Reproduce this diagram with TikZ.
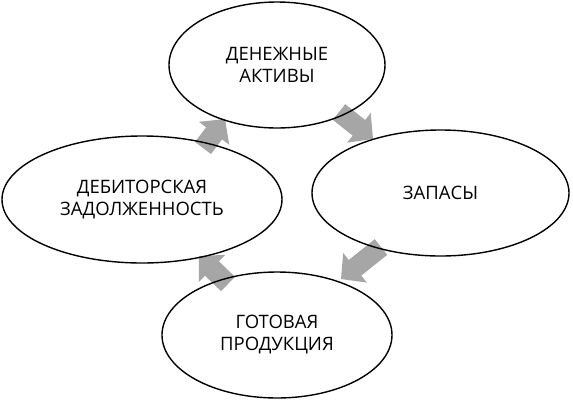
\documentclass[tikz,border=0pt]{standalone}
\usepackage{fontspec}
\setmainfont{Open Sans}
\usetikzlibrary{calc,shapes.geometric}
\definecolor{arrowgray}{RGB}{166,166,166}
\tikzset{
  oval/.style={draw=black, line width=1.4pt, ellipse, inner sep=0pt, align=center,
    font=\fontsize{18.5}{22}\selectfont},
  blockarrow/.style={fill=arrowgray, draw=none}
}
\newcommand\barrow[2]{%
  \coordinate (hb) at ($(#2)!18pt!(#1)$);
  \fill[blockarrow] ($(#1)!10pt!90:(#2)$) -- ($(hb)!10pt!-90:(#1)$) -- ($(hb)!19pt!-90:(#1)$)
    -- (#2) -- ($(hb)!19pt!90:(#1)$) -- ($(hb)!10pt!90:(#1)$) -- ($(#1)!10pt!-90:(#2)$) -- cycle;
}
\begin{document}
\begin{tikzpicture}[x=1pt,y=-1pt]
\useasboundingbox (0,0) rectangle (573,400);
% arrow end points
\coordinate (t1) at (339,112); \coordinate (h1) at (373,139);
\coordinate (t2) at (381,247); \coordinate (h2) at (341,279);
\coordinate (t3) at (228,284); \coordinate (h3) at (199,256);
\coordinate (t4) at (203,148); \coordinate (h4) at (225,119);
\barrow{t1}{h1}
\barrow{t2}{h2}
\barrow{t3}{h3}
\barrow{t4}{h4}
\node[oval, minimum width=216pt, minimum height=126pt] (money) at (277,65) {ДЕНЕЖНЫЕ\\АКТИВЫ};
\node[oval, minimum width=257pt, minimum height=126pt] (stock) at (440.5,193) {ЗАПАСЫ};
\node[oval, minimum width=230pt, minimum height=126pt] (goods) at (277,335) {ГОТОВАЯ\\ПРОДУКЦИЯ};
\node[oval, minimum width=280pt, minimum height=127pt] (debt) at (142,199.5) {ДЕБИТОРСКАЯ\\ЗАДОЛЖЕННОСТЬ};
\end{tikzpicture}
\end{document}
